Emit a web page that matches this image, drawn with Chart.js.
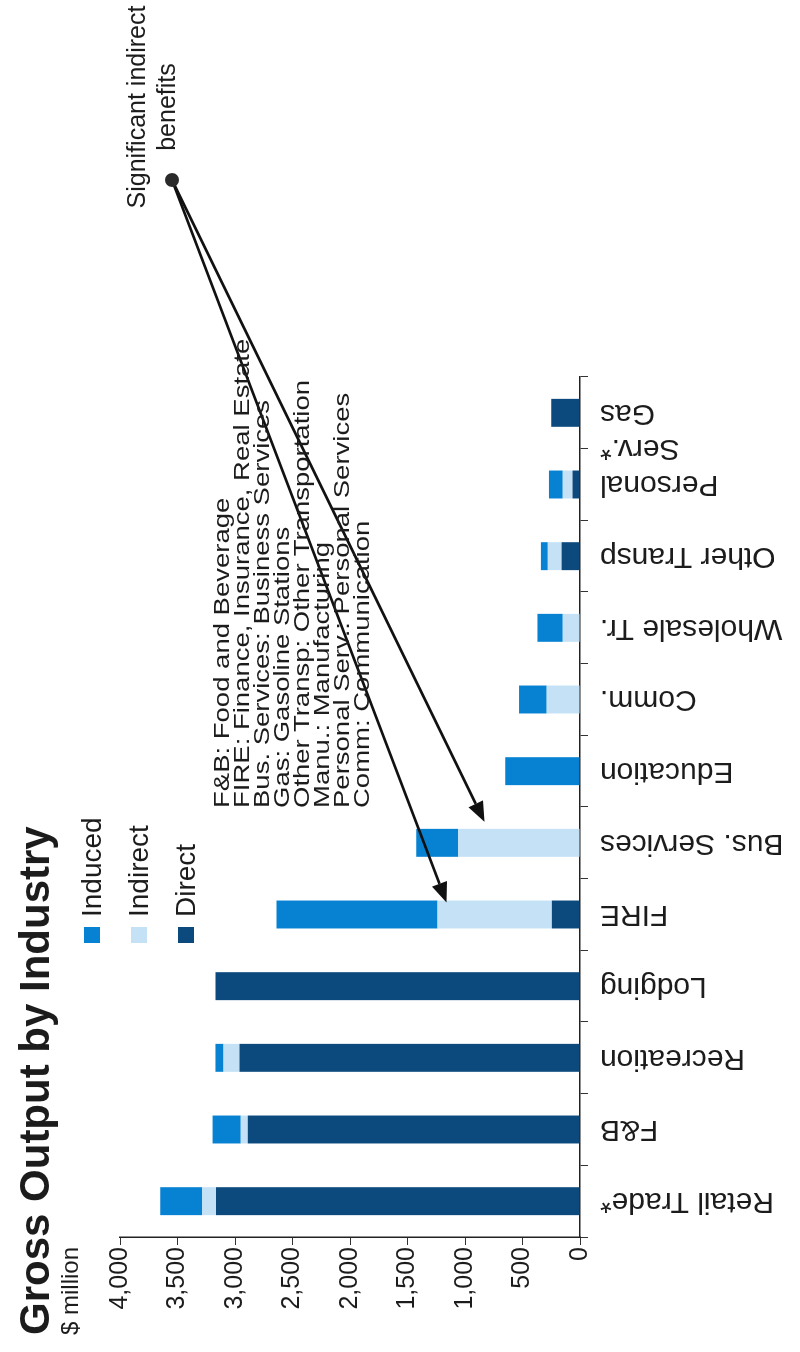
<!DOCTYPE html>
<html>
<head>
<meta charset="utf-8">
<script src="https://cdn.jsdelivr.net/npm/chart.js@4.4.1/dist/chart.umd.min.js"></script>
<style>
  html, body { margin: 0; padding: 0; background: #fff; overflow: hidden; }
  body { width: 800px; height: 1352px; position: relative; font-family: "Liberation Sans", Arial, sans-serif; color: #1c1c1c; }
  /* the chart is laid out landscape and turned a quarter turn, like the scanned page */
  #page { position: absolute; left: 0; top: 0; width: 1352px; height: 800px; transform-origin: 0 0; transform: translateY(1352px) rotate(-90deg); }
  #page canvas { position: absolute; left: 0; top: 0; }
  .title { position: absolute; left: 17px; top: 14px; font-size: 42px; font-weight: bold; line-height: 1; white-space: nowrap; }
  .unit { position: absolute; left: 17px; top: 58px; font-size: 24px; line-height: 1; white-space: nowrap; }
  .notes { position: absolute; left: 544px; top: 212px; font-size: 22px; line-height: 20px; white-space: nowrap; transform: scaleX(1.25); transform-origin: 0 0; }
  .callout { position: absolute; left: 1140px; top: 121px; width: 210px; text-align: center; font-size: 25px; line-height: 30px; }
</style>
</head>
<body>
<div id="page">
  <canvas id="outputChart" width="1352" height="800"></canvas>
  <div class="title">Gross Output by Industry</div>
  <div class="unit">$ million</div>
  <div class="notes">
    F&amp;B: Food and Beverage<br>
    FIRE: Finance, Insurance, Real Estate<br>
    Bus. Services: Business Services<br>
    Gas: Gasoline Stations<br>
    Other Transp: Other Transportation<br>
    Manu.: Manufacturing<br>
    Personal Serv.: Personal Services<br>
    Comm: Communication
  </div>
  <div class="callout">Significant indirect<br>benefits</div>
</div>
<script>
const industries = [
  "Retail Trade*", "F&B", "Recreation", "Lodging", "FIRE", "Bus. Services",
  "Education", "Comm.", "Wholesale Tr.", "Other Transp", ["Personal", "Serv.*"], "Gas",
];
const direct = [3165, 2890, 2960, 3170, 245, 0, 0, 0, 0, 160, 65, 250];
const indirect = [120, 60, 140, 0, 995, 1060, 0, 290, 150, 120, 85, 0];
const induced = [365, 245, 70, 0, 1400, 365, 650, 240, 220, 60, 120, 0];
const valueTicks = [0, 500, 1000, 1500, 2000, 2500, 3000, 3500, 4000];

// where the "significant indirect" arrows land: category index + value
const arrowTargets = [
  { index: 4, value: 1160, shift: 12 },
  { index: 5, value: 830, shift: 21 },
];

const FONT = '"Liberation Sans", Arial, sans-serif';
const INK = "#1c1c1c";

const overlay = {
  id: "overlay",
  afterDatasetsDraw(chart) {
    const { ctx } = chart;
    const { x, y } = chart.scales;
    ctx.save();

    // legend, top of stack first
    chart.data.datasets.slice().reverse().forEach((ds, i) => {
      const cy = 92 + i * 47;
      ctx.fillStyle = ds.backgroundColor;
      ctx.fillRect(409, cy - 8, 16, 16);
      ctx.fillStyle = INK;
      ctx.font = `28px ${FONT}`;
      ctx.textBaseline = "middle";
      ctx.fillText(ds.label, 435, cy + 1);
    });

    // callout dot + arrows
    const ox = 1172, oy = 172;
    ctx.strokeStyle = "#111";
    ctx.fillStyle = "#111";
    ctx.lineWidth = 2.6;
    arrowTargets.forEach((t) => {
      const tx = x.getPixelForValue(t.index) + t.shift;
      const ty = y.getPixelForValue(t.value);
      const ang = Math.atan2(ty - oy, tx - ox);
      const len = 20, half = 8;
      const bx = tx - len * Math.cos(ang), by = ty - len * Math.sin(ang);
      ctx.beginPath();
      ctx.moveTo(ox, oy);
      ctx.lineTo(bx, by);
      ctx.stroke();
      ctx.beginPath();
      ctx.moveTo(tx, ty);
      ctx.lineTo(bx + half * Math.sin(ang), by - half * Math.cos(ang));
      ctx.lineTo(bx - half * Math.sin(ang), by + half * Math.cos(ang));
      ctx.closePath();
      ctx.fill();
    });
    ctx.beginPath();
    ctx.arc(ox, oy, 7, 0, Math.PI * 2);
    ctx.fillStyle = "#2a2a2a";
    ctx.fill();

    ctx.restore();
  },
};

new Chart(document.querySelector("#outputChart"), {
  type: "bar",
  data: {
    labels: industries,
    datasets: [
      { label: "Direct", data: direct, backgroundColor: "#0c497d" },
      { label: "Indirect", data: indirect, backgroundColor: "#c4e1f5" },
      { label: "Induced", data: induced, backgroundColor: "#0782d2" },
    ],
  },
  options: {
    responsive: false,
    animation: false,
    devicePixelRatio: 1,
    layout: { padding: { left: 0, top: 120, right: 377, bottom: 0 } },
    datasets: { bar: { barPercentage: 0.39, categoryPercentage: 1, borderWidth: 0 } },
    plugins: { legend: { display: false }, tooltip: { enabled: false } },
    scales: {
      x: {
        stacked: true,
        afterFit: (scale) => { scale.height = 220; },
        grid: { drawOnChartArea: false, tickLength: 8, color: "#333", offset: true },
        border: { color: "#222", width: 1.5 },
        ticks: {
          autoSkip: false,
          minRotation: 90,
          maxRotation: 90,
          padding: 12,
          color: INK,
          font: { family: FONT, size: 30 },
        },
      },
      y: {
        stacked: true,
        min: 0,
        max: 4000,
        afterFit: (scale) => { scale.width = 115; },
        afterBuildTicks: (scale) => { scale.ticks = valueTicks.map((v) => ({ value: v })); },
        grid: { drawOnChartArea: false, tickLength: 8, color: "#333" },
        border: { color: "#222", width: 1.5 },
        ticks: {
          padding: 2,
          color: INK,
          font: { family: FONT, size: 25 },
          callback: (v) => v.toLocaleString("en-US"),
        },
      },
    },
  },
  plugins: [overlay],
});
</script>
</body>
</html>
